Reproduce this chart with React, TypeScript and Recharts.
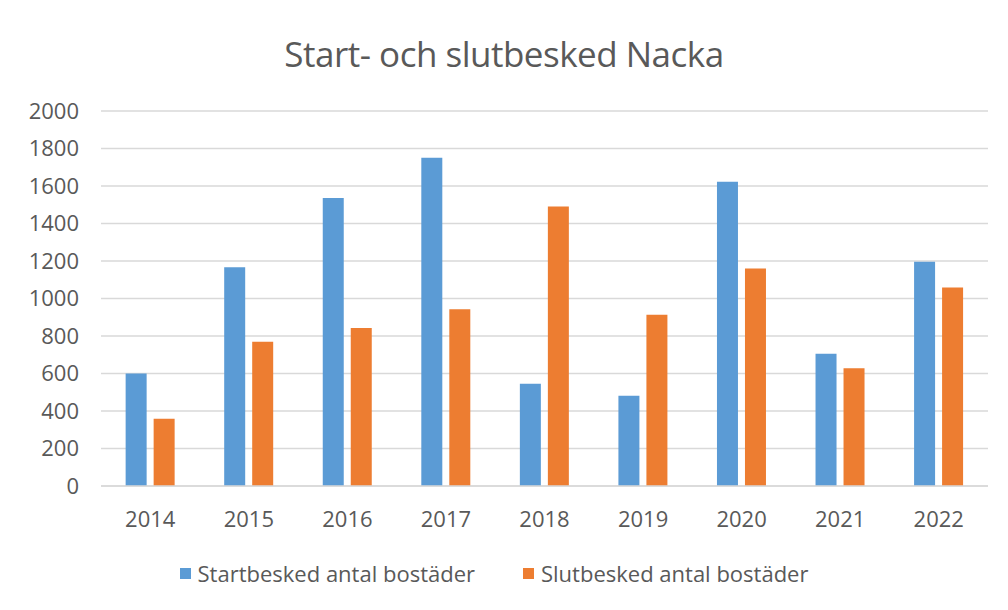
import { BarChart, Bar, XAxis, YAxis, CartesianGrid, Legend } from "recharts"

const years = ["2014", "2015", "2016", "2017", "2018", "2019", "2020", "2021", "2022"]
const startbesked = [600, 1167, 1536, 1751, 546, 482, 1623, 706, 1196]
const slutbesked = [359, 770, 843, 943, 1491, 914, 1160, 628, 1059]
const yTicks = [0, 200, 400, 600, 800, 1000, 1200, 1400, 1600, 1800, 2000]
const seriesNames = ["Startbesked antal bostäder", "Slutbesked antal bostäder"]
const seriesColors = ["#5b9bd5", "#ed7d31"]

const data = years.map((year, i) => ({
  year,
  start: startbesked[i],
  slut: slutbesked[i],
}))

const font = "'Open Sans', 'Noto Sans', sans-serif"
const textColor = "#595959"

function renderLegend() {
  return (
    <div style={{ display: "flex", justifyContent: "center", gap: 48, fontFamily: font, paddingTop: 12 }}>
      {seriesNames.map((name, i) => (
        <div key={name} style={{ display: "flex", alignItems: "center", gap: 7 }}>
          <span style={{ width: 11, height: 11, background: seriesColors[i], display: "inline-block" }} />
          <span style={{ fontSize: 22, color: textColor }}>{name}</span>
        </div>
      ))}
    </div>
  )
}

export default function App() {
  return (
    <div style={{ position: "relative", width: 1008, height: 610, margin: -8, background: "#fff" }}>
      <div
        style={{
          position: "absolute",
          left: 6,
          top: 7,
          width: 996,
          height: 600,
          border: "1px solid #d0d0d0",
          boxSizing: "border-box",
        }}
      />
      <div
        style={{
          position: "absolute",
          top: 30,
          width: "100%",
          textAlign: "center",
          fontFamily: font,
          fontSize: 35,
          color: textColor,
          letterSpacing: -0.5,
        }}
      >
        Start- och slutbesked Nacka
      </div>
      <div style={{ position: "absolute", left: 0, top: 0 }}>
        <BarChart
          width={1008}
          height={610}
          data={data}
          margin={{ top: 111, right: 20, left: 0, bottom: 24 }}
          barCategoryGap="25%"
          barGap={7}
        >
          <CartesianGrid vertical={false} stroke="#d9d9d9" strokeWidth={1.5} />
          <XAxis
            dataKey="year"
            height={60}
            axisLine={{ stroke: "#d9d9d9", strokeWidth: 1.5 }}
            tickLine={false}
            tickSize={0}
            tickMargin={25}
            tick={{ fill: textColor, fontSize: 22, fontFamily: font }}
          />
          <YAxis
            width={101}
            domain={[0, 2000]}
            ticks={yTicks}
            interval={0}
            axisLine={false}
            tickLine={false}
            tickSize={0}
            tickMargin={22}
            tick={{ fill: textColor, fontSize: 22, fontFamily: font }}
          />
          <Legend verticalAlign="bottom" content={renderLegend} wrapperStyle={{ height: 40 }} />
          <Bar dataKey="start" name={seriesNames[0]} fill={seriesColors[0]} isAnimationActive={false} />
          <Bar dataKey="slut" name={seriesNames[1]} fill={seriesColors[1]} isAnimationActive={false} />
        </BarChart>
      </div>
    </div>
  )
}
